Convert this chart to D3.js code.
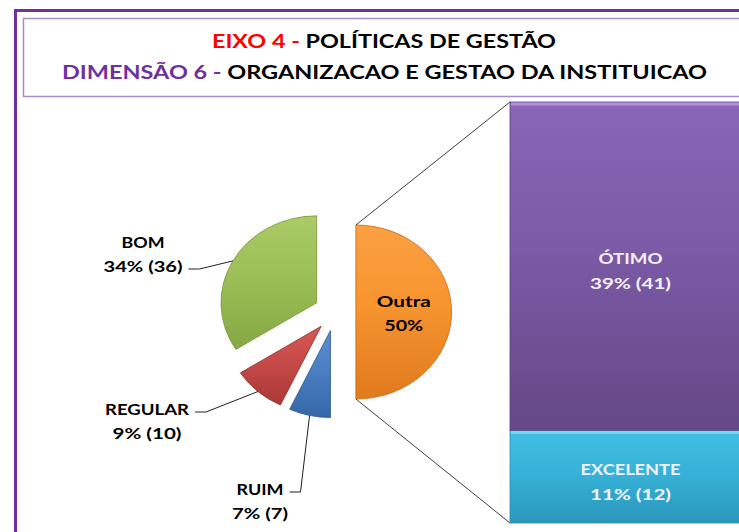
<!DOCTYPE html>
<meta charset="utf-8">
<style>
body { margin: 0; background: #fff; }
text { font-family: "Lato", "Open Sans", sans-serif; font-weight: bold; }
</style>
<body>
<script src="https://cdn.jsdelivr.net/npm/d3@7"></script>
<script>

// data
var pieNames = ["Outra", "RUIM", "REGULAR", "BOM"];
var pieValues = [50, 7, 9, 34];
var pieCounts = [null, 7, 10, 36];
var barNames = ["EXCELENTE", "ÓTIMO"];   // bottom to top
var barValues = [11, 39];
var barCounts = [12, 41];

var width = 739, height = 532;

// the original is a horizontally stretched Calibri render, so each line is fitted to its width
var lineWidths = {
  "EIXO 4 - POLÍTICAS DE GESTÃO": 344,
  "DIMENSÃO 6 - ORGANIZACAO E GESTAO DA INSTITUICAO": 645,
  "BOM": 43, "34% (36)": 79,
  "REGULAR": 84, "9% (10)": 69,
  "RUIM": 47, "7% (7)": 56,
  "Outra": 54, "50%": 39,
  "ÓTIMO": 64, "39% (41)": 81,
  "EXCELENTE": 100, "11% (12)": 81
};

function fit(sel, str) {
  if (lineWidths[str]) sel.attr("textLength", lineWidths[str]).attr("lengthAdjust", "spacingAndGlyphs");
  return sel;
}

var svg = d3.select("body").append("svg")
    .attr("width", width)
    .attr("height", height);

var defs = svg.append("defs");

function grad(id, top, mid, bottom) {
  var g = defs.append("linearGradient").attr("id", id)
      .attr("x1", 0).attr("y1", 0).attr("x2", 0).attr("y2", 1);
  g.append("stop").attr("offset", "0%").attr("stop-color", top);
  g.append("stop").attr("offset", "45%").attr("stop-color", mid);
  g.append("stop").attr("offset", "100%").attr("stop-color", bottom);
}
grad("g-outra", "#fba043", "#f7952f", "#e07a1e");
grad("g-ruim", "#5a8fd2", "#4a7fc2", "#3567a8");
grad("g-regular", "#d45a56", "#c64a47", "#a83835");
grad("g-bom", "#aacb66", "#9cbf56", "#86a845");
grad("g-otimo", "#8a66b6", "#7b5aa6", "#654886");
grad("g-excelente", "#44c0e4", "#36b2d8", "#2b97bb");

var fills = {Outra: "url(#g-outra)", RUIM: "url(#g-ruim)", REGULAR: "url(#g-regular)", BOM: "url(#g-bom)",
             "ÓTIMO": "url(#g-otimo)", EXCELENTE: "url(#g-excelente)"};
var edges = {Outra: "#c86a14", RUIM: "#2e5a94", REGULAR: "#923230", BOM: "#7a9a3c",
             "ÓTIMO": "#5a3f7a", EXCELENTE: "#2a8db0"};

// frame
svg.append("rect")
    .attr("x", 15.5).attr("y", 10.5)
    .attr("width", 760).attr("height", 540)
    .attr("fill", "#fff")
    .attr("stroke", "#7030a0")
    .attr("stroke-width", 3);

svg.append("rect")
    .attr("x", 23.5).attr("y", 18.5)
    .attr("width", 740).attr("height", 78)
    .attr("fill", "none")
    .attr("stroke", "#a88cc8")
    .attr("stroke-width", 1.5);

// title
var t1 = svg.append("text").attr("x", 384).attr("y", 48)
    .attr("text-anchor", "middle").style("font-size", "19px");
t1.append("tspan").attr("fill", "#ff0000").text("EIXO 4 - ");
t1.append("tspan").attr("fill", "#000").text("POLÍTICAS DE GESTÃO");
fit(t1, "EIXO 4 - POLÍTICAS DE GESTÃO");

var t2 = svg.append("text").attr("x", 384.5).attr("y", 79)
    .attr("text-anchor", "middle").style("font-size", "19px");
t2.append("tspan").attr("fill", "#7030a0").text("DIMENSÃO 6 - ");
t2.append("tspan").attr("fill", "#000").text("ORGANIZACAO E GESTAO DA INSTITUICAO");
fit(t2, "DIMENSÃO 6 - ORGANIZACAO E GESTAO DA INSTITUICAO");

// pie
var cx = 335, cy = 312, r = 87, sx = 1.1, explode = 19;

var pie = d3.pie().sort(null)(pieValues);
var arc = d3.arc().innerRadius(0).outerRadius(r);

var slices = pie.map(function(p, i) {
  var mid = (p.startAngle + p.endAngle) / 2;
  return {
    p: p, name: pieNames[i], value: pieValues[i], count: pieCounts[i],
    ox: Math.sin(mid) * explode * sx,
    oy: -Math.cos(mid) * explode,
    mid: mid
  };
});

var pieG = svg.append("g").attr("transform", "translate(" + cx + "," + cy + ")");

pieG.selectAll("path.slice")
  .data(slices)
  .enter().append("path")
    .attr("class", "slice")
    .attr("transform", function(d) { return "translate(" + d.ox + "," + d.oy + ") scale(" + sx + ",1)"; })
    .attr("d", function(d) { return arc(d.p); })
    .attr("fill", function(d) { return fills[d.name]; })
    .attr("stroke", function(d) { return edges[d.name]; })
    .attr("stroke-width", 0.8);

// bar (stacked, on the right)
var bx = 510, bw = 245;
var y = d3.scaleLinear().domain([0, 50]).range([523, 102]);
var stack = [];
var acc = 0;
barValues.forEach(function(v, i) {
  stack.push({name: barNames[i], value: v, count: barCounts[i], y0: acc, y1: acc + v});
  acc += v;
});

svg.selectAll("rect.bar")
  .data(stack)
  .enter().append("rect")
    .attr("class", "bar")
    .attr("x", bx)
    .attr("y", function(d) { return y(d.y1); })
    .attr("width", bw)
    .attr("height", function(d) { return y(d.y0) - y(d.y1); })
    .attr("fill", function(d) { return fills[d.name]; })
    .attr("stroke", function(d) { return edges[d.name]; })
    .attr("stroke-width", 0.8);

// light bevel strip at the top of each bar segment
svg.selectAll("rect.hl")
  .data(stack)
  .enter().append("rect")
    .attr("x", bx + 1)
    .attr("y", function(d) { return y(d.y1) + 0.5; })
    .attr("width", bw)
    .attr("height", 3)
    .attr("fill", function(d) { return d.name === "ÓTIMO" ? "#b894e0" : "#74dcf6"; })
    .attr("opacity", 0.9);

// connector lines from Outra slice to the bar
var outra = slices[0];
var topPt = [cx + outra.ox, cy + outra.oy - r];
var botPt = [cx + outra.ox, cy + outra.oy + r];
svg.append("line")
    .attr("x1", topPt[0]).attr("y1", topPt[1])
    .attr("x2", bx).attr("y2", y(50))
    .attr("stroke", "#404040").attr("stroke-width", 1);
svg.append("line")
    .attr("x1", botPt[0]).attr("y1", botPt[1])
    .attr("x2", bx).attr("y2", y(0))
    .attr("stroke", "#404040").attr("stroke-width", 1);

function label(x, y0, str, color) {
  return fit(svg.append("text")
      .attr("x", x).attr("y", y0)
      .attr("text-anchor", "middle")
      .attr("fill", color)
      .style("font-size", "16px")
      .text(str), str);
}

// Outra label
var oc = arc.centroid(outra.p);
var ox = cx + outra.ox + oc[0] * sx, oy = cy + outra.oy + oc[1];
label(ox, oy - 5, "Outra", "#000");
label(ox, oy + 19, outra.value + "%", "#000");

// outside labels for small slices; label block placement and which line carries the leader
var labelPos = {
  BOM:     {x: 143, y: 248, leadLine: 1},
  REGULAR: {x: 147, y: 415, leadLine: 0},
  RUIM:    {x: 260, y: 495, leadLine: 0}
};

slices.slice(1).forEach(function(d) {
  var lp = labelPos[d.name];
  var l1 = d.name, l2 = d.value + "% (" + d.count + ")";
  label(lp.x, lp.y, l1, "#000");
  label(lp.x, lp.y + 24, l2, "#000");
  var w = lineWidths[lp.leadLine ? l2 : l1];
  var ly = lp.y + lp.leadLine * 24 - 3;
  var lx = lp.x + w / 2 + 6;
  var ex = cx + d.ox + Math.sin(d.mid) * r * sx;
  var ey = cy + d.oy - Math.cos(d.mid) * r;
  svg.append("path")
      .attr("d", "M" + lx + "," + ly + "H" + (lx + 11) + "L" + ex + "," + ey)
      .attr("fill", "none")
      .attr("stroke", "#202020")
      .attr("stroke-width", 1);
});

// bar labels
stack.forEach(function(d) {
  var m = (y(d.y0) + y(d.y1)) / 2;
  label(bx + bw / 2 - 2, m - 2, d.name, "#f4f0f8");
  label(bx + bw / 2 - 2, m + 23, d.value + "% (" + d.count + ")", "#f4f0f8");
});

</script>
</body>
